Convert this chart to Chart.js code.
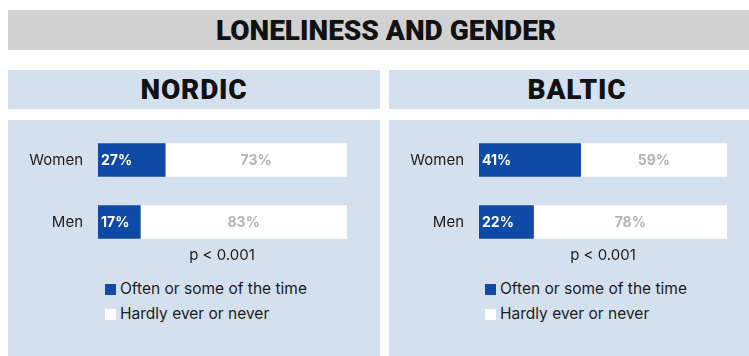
<!DOCTYPE html>
<html>
<head>
<meta charset="utf-8">
<script src="https://cdn.jsdelivr.net/npm/chart.js@4.4.0/dist/chart.umd.min.js"></script>
<style>
  body { margin: 0; width: 749px; height: 356px; background: #fff; font-family: Inter, "Noto Sans", sans-serif; color: #1c1c1c; position: relative; overflow: hidden; }
  .band { position: absolute; display: flex; align-items: center; justify-content: center; font-family: Roboto, sans-serif; font-weight: 900; box-sizing: border-box; color: #111; }
  #title { left: 8px; top: 10px; width: 741px; height: 40px; background: #d2d2d2; font-size: 28px; letter-spacing: 0; padding-left: 15px; }
  .head { top: 70px; height: 39px; background: #d5e0ef; font-size: 28px; letter-spacing: 0.8px; }
  .panel { position: absolute; top: 120px; height: 236px; background: #d5e0ef; }
  .panel canvas { position: absolute; left: 0; top: 8px; }
  .pval { position: absolute; top: 245px; font-size: 15px; transform: translateX(-50%); }
  .legend { position: absolute; font-size: 15.5px; line-height: 25px; }
  .legend span { display: inline-block; width: 11px; height: 11px; margin-right: 4px; vertical-align: -1px; }
</style>
</head>
<body>
<div id="title" class="band">LONELINESS AND GENDER</div>
<div class="band head" style="left:8px;width:372px">NORDIC</div>
<div class="band head" style="left:389px;width:360px;padding-left:16px">BALTIC</div>

<div class="panel" style="left:8px;width:372px"><canvas id="nordic" width="372" height="124"></canvas></div>
<div class="panel" style="left:389px;width:360px"><canvas id="baltic" width="360" height="124"></canvas></div>

<div class="pval" style="left:222px">p &lt; 0.001</div>
<div class="pval" style="left:603px">p &lt; 0.001</div>

<div class="legend" style="left:105px;top:276px">
  <div><span style="background:#0f4aa6"></span>Often or some of the time</div>
  <div><span style="background:#fff"></span>Hardly ever or never</div>
</div>
<div class="legend" style="left:485px;top:276px">
  <div><span style="background:#0f4aa6"></span>Often or some of the time</div>
  <div><span style="background:#fff"></span>Hardly ever or never</div>
</div>

<script>
const groups = ["Women", "Men"];
const nordicOften = [27, 17];
const nordicHardly = [73, 83];
const balticOften = [41, 22];
const balticHardly = [59, 78];

const blue = "#0f4aa6";
const plotHeight = 124; // wanted height of the bar area
const plotTop = 9;      // its offset inside the panel

// writes the percentage inside each bar segment
const barText = {
  id: "barText",
  afterDatasetsDraw(chart) {
    const ctx = chart.ctx;
    ctx.save();
    ctx.font = "bold 14px Inter, sans-serif";
    ctx.textBaseline = "middle";
    chart.data.datasets.forEach((ds, d) => {
      chart.getDatasetMeta(d).data.forEach((bar, i) => {
        const txt = ds.data[i] + "%";
        if (d === 0) {
          ctx.fillStyle = "#fff";
          ctx.textAlign = "left";
          ctx.fillText(txt, bar.base + 3, bar.y + 1);
        } else {
          ctx.fillStyle = "#b3b3b3";
          ctx.textAlign = "center";
          ctx.fillText(txt, (bar.base + bar.x) / 2, bar.y + 1);
        }
      });
    });
    ctx.restore();
  }
};

function makeChart(id, often, hardly, rightPad) {
  const canvas = document.getElementById(id);
  const chart = new Chart(canvas, {
    type: "bar",
    data: {
      labels: groups,
      datasets: [
        { label: "Often or some of the time", data: often, backgroundColor: blue, barThickness: 33 },
        { label: "Hardly ever or never", data: hardly, backgroundColor: "#fff", barThickness: 33 }
      ]
    },
    options: {
      indexAxis: "y",
      responsive: false,
      maintainAspectRatio: false,
      animation: false,
      layout: { autoPadding: false, padding: { left: 0, right: rightPad, top: 0, bottom: 0 } },
      plugins: { legend: { display: false }, tooltip: { enabled: false } },
      scales: {
        x: { stacked: true, min: 0, max: 100, display: false },
        y: {
          stacked: true,
          border: { display: false },
          grid: { display: false },
          ticks: { color: "#1c1c1c", font: { size: 15, family: "Inter" }, padding: 7 },
          afterFit(scale) { scale.width = 90; }
        }
      }
    },
    plugins: [barText]
  });
  // the category axis keeps some space above and below; grow the canvas so the bar area itself is plotHeight
  const extra = chart.height - chart.chartArea.height;
  const above = chart.chartArea.top;
  chart.resize(canvas.width, plotHeight + extra);
  canvas.style.top = (plotTop - above) + "px";
  return chart;
}

makeChart("nordic", nordicOften, nordicHardly, 33);
makeChart("baltic", balticOften, balticHardly, 22);
</script>
</body>
</html>
